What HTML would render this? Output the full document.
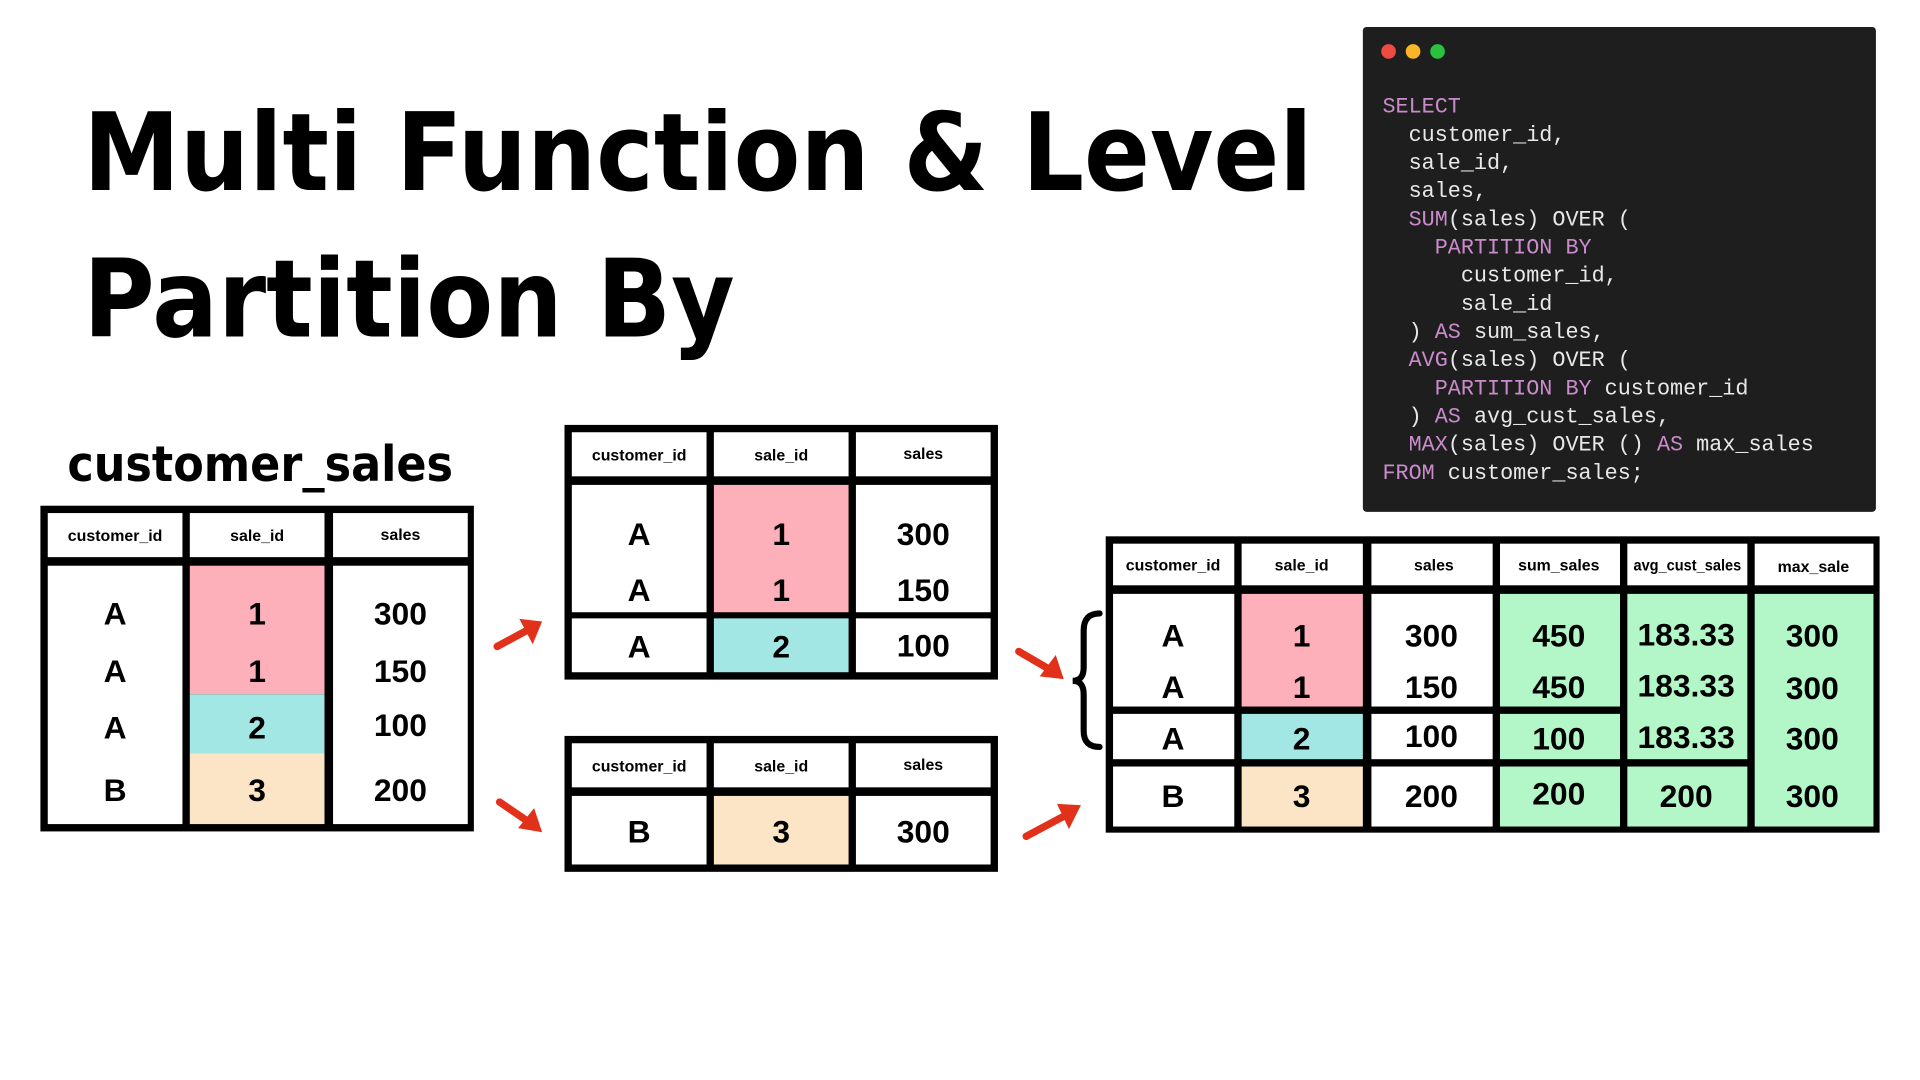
<!DOCTYPE html>
<html><head><meta charset="utf-8"><style>
html,body{margin:0;padding:0;background:#fff;width:1920px;height:1080px;overflow:hidden}
svg{display:block}
.t{font-family:"DejaVu Sans","Liberation Sans",sans-serif;font-weight:bold;fill:#000}
.h{font-family:"Liberation Sans",sans-serif;font-weight:bold;font-size:13px;text-anchor:middle}
.v{font-family:"Liberation Sans",sans-serif;font-weight:bold;font-size:26px;text-anchor:middle}
.c{font-family:"Liberation Mono",monospace;font-size:17.8px;fill:#e8e8e8;white-space:pre}
.k{fill:#c98bcb}
</style></head><body>
<svg width="1920" height="1080" viewBox="0 0 1568 882" xmlns="http://www.w3.org/2000/svg">
<rect width="1568" height="882" fill="#fff"/>
<text class="t" x="68" y="155" font-size="88" textLength="1004" lengthAdjust="spacingAndGlyphs">Multi Function &amp; Level</text>
<text class="t" x="68" y="275" font-size="88" textLength="532" lengthAdjust="spacingAndGlyphs">Partition By</text>
<text class="t" x="55" y="393" font-size="40" textLength="315" lengthAdjust="spacingAndGlyphs">customer_sales</text>

<rect x="1113" y="22" width="419" height="396" rx="3" fill="#1e1e1e"/>
<circle cx="1134" cy="42" r="6" fill="#ee4b45"/>
<circle cx="1154" cy="42" r="6" fill="#f8b526"/>
<circle cx="1174" cy="42" r="6" fill="#2ac13e"/>
<text class="c" x="1129" y="92"><tspan class="k">SELECT</tspan></text>
<text class="c" x="1129" y="115">  customer_id,</text>
<text class="c" x="1129" y="138">  sale_id,</text>
<text class="c" x="1129" y="161">  sales,</text>
<text class="c" x="1129" y="184">  <tspan class="k">SUM</tspan>(sales) OVER (</text>
<text class="c" x="1129" y="207">    <tspan class="k">PARTITION BY</tspan></text>
<text class="c" x="1129" y="230">      customer_id,</text>
<text class="c" x="1129" y="253">      sale_id</text>
<text class="c" x="1129" y="276">  ) <tspan class="k">AS</tspan> sum_sales,</text>
<text class="c" x="1129" y="299">  <tspan class="k">AVG</tspan>(sales) OVER (</text>
<text class="c" x="1129" y="322">    <tspan class="k">PARTITION BY</tspan> customer_id</text>
<text class="c" x="1129" y="345">  ) <tspan class="k">AS</tspan> avg_cust_sales,</text>
<text class="c" x="1129" y="368">  <tspan class="k">MAX</tspan>(sales) OVER () <tspan class="k">AS</tspan> max_sales</text>
<text class="c" x="1129" y="391"><tspan class="k">FROM</tspan> customer_sales;</text>

<rect x="33" y="413" width="354" height="266" fill="#000"/>
<g fill="#fff">
<rect x="39" y="419" width="110" height="36"/><rect x="155" y="419" width="110" height="36"/><rect x="272" y="419" width="110" height="36"/>
<rect x="39" y="462" width="110" height="211"/><rect x="272" y="462" width="110" height="211"/>
</g>
<rect x="155" y="462" width="110" height="105" fill="#fdafba"/>
<rect x="155" y="567" width="110" height="48" fill="#a3e7e5"/>
<rect x="155" y="615" width="110" height="58" fill="#fbe5c6"/>
<text class="h" x="94" y="442">customer_id</text><text class="h" x="210" y="442">sale_id</text><text class="h" x="327" y="441">sales</text>
<g class="v"><text x="94" y="510">A</text><text x="94" y="557">A</text><text x="94" y="603">A</text><text x="94" y="654">B</text>
<text x="210" y="510">1</text><text x="210" y="557">1</text><text x="210" y="603">2</text><text x="210" y="654">3</text>
<text x="327" y="510">300</text><text x="327" y="557">150</text><text x="327" y="601">100</text><text x="327" y="654">200</text></g>

<rect x="461" y="347" width="354" height="208" fill="#000"/>
<g fill="#fff">
<rect x="467" y="353" width="110" height="36"/><rect x="583" y="353" width="110" height="36"/><rect x="699" y="353" width="110" height="36"/>
<rect x="467" y="396" width="110" height="104"/><rect x="699" y="396" width="110" height="104"/>
<rect x="467" y="505" width="110" height="44"/><rect x="699" y="505" width="110" height="44"/>
</g>
<rect x="583" y="396" width="110" height="104" fill="#fdafba"/>
<rect x="583" y="505" width="110" height="44" fill="#a3e7e5"/>
<text class="h" x="522" y="376">customer_id</text><text class="h" x="638" y="376">sale_id</text><text class="h" x="754" y="375">sales</text>
<g class="v"><text x="522" y="445">A</text><text x="522" y="491">A</text><text x="522" y="537">A</text>
<text x="638" y="445">1</text><text x="638" y="491">1</text><text x="638" y="537">2</text>
<text x="754" y="445">300</text><text x="754" y="491">150</text><text x="754" y="536">100</text></g>

<rect x="461" y="601" width="354" height="111" fill="#000"/>
<g fill="#fff">
<rect x="467" y="607" width="110" height="36"/><rect x="583" y="607" width="110" height="36"/><rect x="699" y="607" width="110" height="36"/>
<rect x="467" y="650" width="110" height="56"/><rect x="699" y="650" width="110" height="56"/>
</g>
<rect x="583" y="650" width="110" height="56" fill="#fbe5c6"/>
<text class="h" x="522" y="630">customer_id</text><text class="h" x="638" y="630">sale_id</text><text class="h" x="754" y="629">sales</text>
<g class="v"><text x="522" y="688">B</text><text x="638" y="688">3</text><text x="754" y="688">300</text></g>

<rect x="903" y="438" width="632" height="242" fill="#000"/>
<g fill="#fff">
<rect x="909" y="444" width="99" height="34"/><rect x="1014" y="444" width="99" height="34"/><rect x="1120" y="444" width="99" height="34"/>
<rect x="1225" y="444" width="98" height="34"/><rect x="1329" y="444" width="98" height="34"/><rect x="1433" y="444" width="97" height="34"/>
<rect x="909" y="485" width="99" height="92"/><rect x="909" y="583" width="99" height="37"/><rect x="909" y="626" width="99" height="49"/>
<rect x="1120" y="485" width="99" height="92"/><rect x="1120" y="583" width="99" height="37"/><rect x="1120" y="626" width="99" height="49"/>
</g>
<rect x="1014" y="485" width="99" height="92" fill="#fdafba"/>
<rect x="1014" y="583" width="99" height="37" fill="#a3e7e5"/>
<rect x="1014" y="626" width="99" height="49" fill="#fbe5c6"/>
<g fill="#b3f7c8">
<rect x="1225" y="485" width="98" height="92"/><rect x="1225" y="583" width="98" height="37"/><rect x="1225" y="626" width="98" height="49"/>
<rect x="1329" y="485" width="98" height="135"/><rect x="1329" y="626" width="98" height="49"/>
<rect x="1433" y="485" width="97" height="190"/>
</g>
<text class="h" x="958" y="466">customer_id</text><text class="h" x="1063" y="466">sale_id</text><text class="h" x="1171" y="466">sales</text>
<text class="h" x="1273" y="466">sum_sales</text><text class="h" x="1378" y="466" font-size="11" textLength="88" lengthAdjust="spacingAndGlyphs">avg_cust_sales</text><text class="h" x="1481" y="467">max_sale</text>
<g class="v" font-size="25">
<text x="958" y="528">A</text><text x="958" y="570">A</text><text x="958" y="612">A</text><text x="958" y="659">B</text>
<text x="1063" y="528">1</text><text x="1063" y="570">1</text><text x="1063" y="612">2</text><text x="1063" y="659">3</text>
<text x="1169" y="528">300</text><text x="1169" y="570">150</text><text x="1169" y="610">100</text><text x="1169" y="659">200</text>
<text x="1273" y="528">450</text><text x="1273" y="570">450</text><text x="1273" y="612">100</text><text x="1273" y="657">200</text>
<text x="1377" y="527">183.33</text><text x="1377" y="569">183.33</text><text x="1377" y="611">183.33</text><text x="1377" y="659">200</text>
<text x="1480" y="528">300</text><text x="1480" y="571">300</text><text x="1480" y="612">300</text><text x="1480" y="659">300</text>
</g>

<path d="M898,501 Q885,501 885,515 L885,545 Q885,556 876,556 Q885,556 885,567 L885,597 Q885,610 898,610" fill="none" stroke="#000" stroke-width="5" stroke-linecap="round"/>

<g fill="#e2311a" stroke="#e2311a" stroke-width="6" stroke-linecap="round">
<line x1="406" y1="528" x2="430" y2="515"/><polygon stroke-width="1" points="442,508 425,506 435,525"/>
<line x1="408" y1="655" x2="430" y2="670"/><polygon stroke-width="1" points="442,679 436,661 424,676"/>
<line x1="832" y1="532" x2="856" y2="546"/><polygon stroke-width="1" points="868,554 862,536 850,552"/>
<line x1="838" y1="683" x2="868" y2="667"/><polygon stroke-width="1" points="882,658 864,657 873,676"/>
</g>
</svg>
</body></html>
